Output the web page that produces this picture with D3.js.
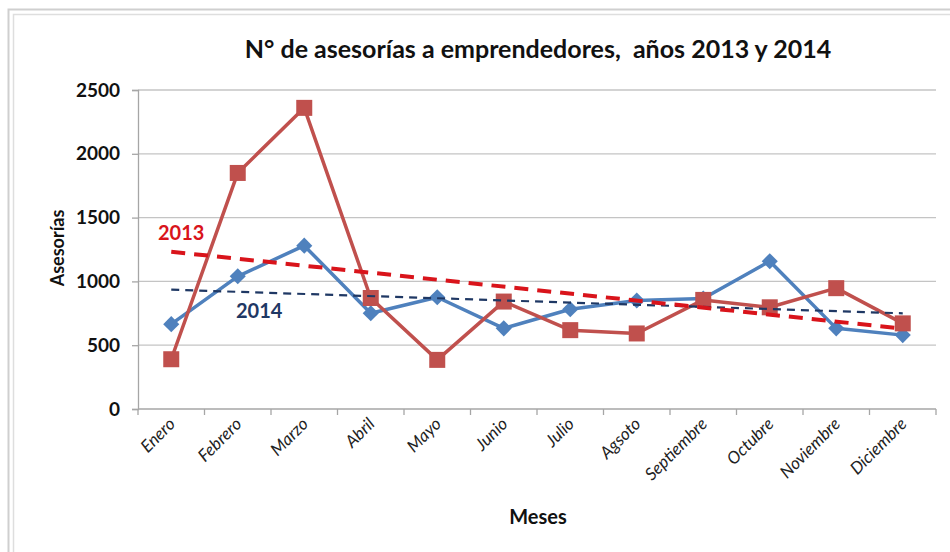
<!DOCTYPE html>
<html>
<head>
<meta charset="utf-8">
<script src="https://cdn.jsdelivr.net/npm/d3@7"></script>
<style>
  body { margin: 0; background: #fff; }
  text { font-family: Lato, "Open Sans", sans-serif; }
</style>
</head>
<body>
<script>
// data
const months = ["Enero", "Febrero", "Marzo", "Abril", "Mayo", "Junio", "Julio",
                "Agosto", "Septiembre", "Octubre", "Noviembre", "Diciembre"];
const monthLabels = ["Enero", "Febrero", "Marzo", "Abril", "Mayo", "Junio", "Julio",
                     "Agsoto", "Septiembre", "Octubre", "Noviembre", "Diciembre"];
const values2013 = [390, 1850, 2360, 870, 385, 842, 618, 592, 855, 797, 947, 671];
const values2014 = [665, 1040, 1280, 750, 876, 632, 782, 850, 866, 1158, 632, 579];
const yTicks = [0, 500, 1000, 1500, 2000, 2500];

const width = 950, height = 552;
const margin = {top: 90, right: 14, bottom: 143, left: 138};

const svg = d3.select("body").append("svg")
              .attr("width", width)
              .attr("height", height);

// chart frame (double grey border of the pasted Excel chart)
svg.append("rect").attr("x", 8.5).attr("y", 9.5).attr("width", 960).attr("height", 560)
   .attr("fill", "none").attr("stroke", "#cfcfcf").attr("stroke-width", 2);
svg.append("rect").attr("x", 13.5).attr("y", 14.5).attr("width", 960).attr("height", 560)
   .attr("fill", "none").attr("stroke", "#dedede").attr("stroke-width", 1.5);

const x = d3.scaleBand()
            .domain(months)
            .range([margin.left, width - margin.right]);

const y = d3.scaleLinear()
            .domain([0, 2500])
            .range([height - margin.bottom, margin.top]);

// gridlines
svg.append("g")
   .selectAll("line")
   .data(yTicks.filter(d => d > 0))
   .enter().append("line")
   .attr("x1", margin.left).attr("x2", width - margin.right)
   .attr("y1", d => y(d)).attr("y2", d => y(d))
   .attr("stroke", "#c4c4c4").attr("stroke-width", 1.3);

// y axis
const yAxis = svg.append("g")
                 .attr("transform", `translate(${margin.left},0)`)
                 .call(d3.axisLeft(y).tickValues(yTicks).tickFormat(d3.format("d"))
                         .tickSize(6).tickPadding(12));
yAxis.select(".domain").attr("stroke", "#a6a6a6").attr("stroke-width", 1.3);
yAxis.selectAll(".tick line").attr("stroke", "#a6a6a6").attr("stroke-width", 1.3);
yAxis.selectAll("text")
     .attr("font-family", "Lato, sans-serif")
     .attr("font-size", 19).attr("font-weight", 700).attr("fill", "#111");

// x axis (ticks between categories)
const y0 = y(0);
svg.append("line")
   .attr("x1", margin.left).attr("x2", width - margin.right)
   .attr("y1", y0).attr("y2", y0)
   .attr("stroke", "#a6a6a6").attr("stroke-width", 1.3);
svg.append("g")
   .selectAll("line")
   .data(months.concat(["_end"]))
   .enter().append("line")
   .attr("x1", d => d === "_end" ? width - margin.right : x(d))
   .attr("x2", d => d === "_end" ? width - margin.right : x(d))
   .attr("y1", y0).attr("y2", y0 + 6)
   .attr("stroke", "#a6a6a6").attr("stroke-width", 1.3);

const cx = i => x(months[i]) + x.bandwidth() / 2;

svg.append("g")
   .selectAll("text")
   .data(monthLabels)
   .enter().append("text")
   .attr("transform", (d, i) => `translate(${cx(i) + 5},${y0 + 16}) rotate(-45)`)
   .attr("text-anchor", "end")
   .attr("font-size", 17)
   .attr("font-style", "italic")
   .attr("fill", "#222")
   .text(d => d);

// titles
svg.append("text")
   .attr("x", 538).attr("y", 58)
   .attr("text-anchor", "middle")
   .attr("font-size", 25).attr("font-weight", 700).attr("fill", "#111")
   .attr("xml:space", "preserve")
   .text("N° de asesorías a emprendedores,  años 2013 y 2014");

svg.append("text")
   .attr("transform", "translate(64,248) rotate(-90)")
   .attr("text-anchor", "middle")
   .attr("font-size", 18).attr("font-weight", 700).attr("fill", "#111")
   .text("Asesorías");

svg.append("text")
   .attr("x", 538).attr("y", 524)
   .attr("text-anchor", "middle")
   .attr("font-size", 20).attr("font-weight", 700).attr("fill", "#111")
   .text("Meses");

// series lines
const line = d3.line().x((d, i) => cx(i)).y(d => y(d));

svg.append("path").datum(values2014)
   .attr("d", line).attr("fill", "none")
   .attr("stroke", "#4f81bd").attr("stroke-width", 3.5).attr("stroke-linejoin", "round");
svg.append("g").selectAll("path")
   .data(values2014)
   .enter().append("path")
   .attr("d", d3.symbol(d3.symbolSquare, 130))
   .attr("transform", (d, i) => `translate(${cx(i)},${y(d)}) rotate(45)`)
   .attr("fill", "#4f81bd");

svg.append("path").datum(values2013)
   .attr("d", line).attr("fill", "none")
   .attr("stroke", "#c0504d").attr("stroke-width", 3.5).attr("stroke-linejoin", "round");
svg.append("g").selectAll("rect")
   .data(values2013)
   .enter().append("rect")
   .attr("x", (d, i) => cx(i) - 8).attr("y", d => y(d) - 8)
   .attr("width", 16).attr("height", 16)
   .attr("fill", "#c0504d");

// linear trend lines
function trend(values) {
  const n = values.length;
  const mx = d3.mean(values, (d, i) => i);
  const my = d3.mean(values);
  const sxy = d3.sum(values, (d, i) => (i - mx) * (d - my));
  const sxx = d3.sum(values, (d, i) => (i - mx) * (i - mx));
  const b = sxy / sxx;
  return [0, n - 1].map(i => ({i, v: my + b * (i - mx)}));
}
const tline = d3.line().x(d => cx(d.i)).y(d => y(d.v));

svg.append("path").datum(trend(values2014))
   .attr("d", tline).attr("fill", "none")
   .attr("stroke", "#1f3864").attr("stroke-width", 2.2).attr("stroke-dasharray", "8,6");
svg.append("path").datum(trend(values2013))
   .attr("d", tline).attr("fill", "none")
   .attr("stroke", "#d9141b").attr("stroke-width", 4).attr("stroke-dasharray", "14,9");

// trend labels
svg.append("text").attr("x", 158).attr("y", 240)
   .attr("font-size", 20).attr("font-weight", 700).attr("fill", "#d9141b")
   .text("2013");
svg.append("text").attr("x", 236).attr("y", 318)
   .attr("font-size", 20).attr("font-weight", 700).attr("fill", "#1f3864")
   .text("2014");
</script>
</body>
</html>
